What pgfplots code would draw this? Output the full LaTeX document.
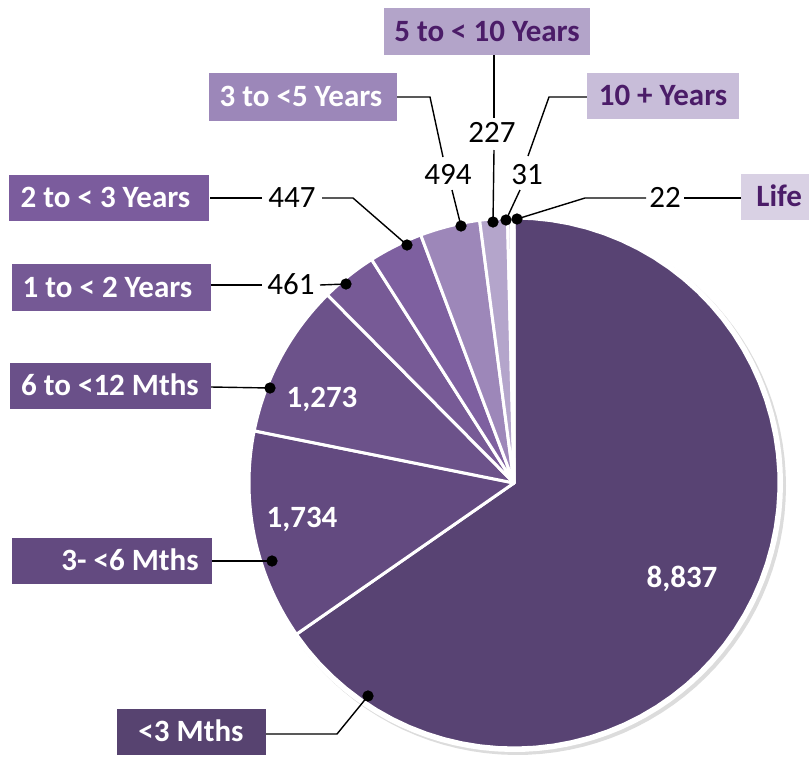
\documentclass[border=0pt]{standalone}
\usepackage{pgfplots}
\usepackage{pgfplotstable}
\pgfplotsset{compat=1.18}
\usepackage{fontspec}
\setmainfont{Carlito}
\newcommand\lf{\fontsize{15.5}{18}\selectfont}

% slices, clockwise from 12 o'clock
\pgfplotstableread{
slice value
0 8837
1 1734
2 1273
3 461
4 447
5 494
6 227
7 31
8 22
}\piedata

\definecolor{slice0}{HTML}{584373}
\definecolor{slice1}{HTML}{634A80}
\definecolor{slice2}{HTML}{6C528A}
\definecolor{slice3}{HTML}{775A96}
\definecolor{slice4}{HTML}{7E60A0}
\definecolor{slice5}{HTML}{9D87B9}
\definecolor{slice6}{HTML}{B4A5CB}
\definecolor{slice7}{HTML}{CEC5DE}
\definecolor{slice8}{HTML}{F0ECF5}
\definecolor{box0}{HTML}{574370}
\definecolor{box1}{HTML}{634A80}
\definecolor{box2}{HTML}{6A5089}
\definecolor{box3}{HTML}{755995}
\definecolor{box4}{HTML}{7B5C9D}
\definecolor{box5}{HTML}{9C87B9}
\definecolor{box6}{HTML}{B3A4C9}
\definecolor{box7}{HTML}{C8BDD9}
\definecolor{box8}{HTML}{D9D1E4}
\definecolor{darktxt}{HTML}{4B1C68}

\gdef\total{0}%
\pgfplotsforeachungrouped \i in {0,...,8}{%
  \pgfplotstablegetelem{\i}{value}\of\piedata
  \pgfmathsetmacro\total{\total+\pgfplotsretval}%
}%
\gdef\cum{0}%
\pgfplotsforeachungrouped \i in {0,...,8}{%
  \pgfplotstablegetelem{\i}{value}\of\piedata
  \pgfmathsetmacro\sA{90-360*(\cum/\total)}%
  \pgfmathsetmacro\cum{\cum+\pgfplotsretval}%
  \pgfmathsetmacro\eA{90-360*(\cum/\total)}%
  \expandafter\xdef\csname sA\i\endcsname{\sA}%
  \expandafter\xdef\csname eA\i\endcsname{\eA}%
}%

\tikzset{lbl/.style={font=\lf, text height=9.8pt, text depth=0pt, inner sep=0pt}}
\newcommand\lbox[5]{%
  \node[fill=#5, minimum width=#3*0.5pt, minimum height=#4*0.5pt, inner sep=0pt, outer sep=0pt] at (axis cs:#1,#2) {};}

\begin{document}
\begin{tikzpicture}
\begin{axis}[
  scale only axis, width=404.5pt, height=378pt,
  xmin=0, xmax=809, ymin=0, ymax=756, y dir=reverse,
  hide axis, clip=false,
]
% shadow and white rim
\addplot[draw=none, fill=black!30, opacity=0.45, domain=0:360, samples=120, variable=\t]
  ({517+269*cos(t)},{486-269*sin(t)}) -- cycle;
\addplot[draw=none, fill=white, domain=0:360, samples=120, variable=\t]
  ({514+269*cos(t)},{483-269*sin(t)}) -- cycle;
% slices
\pgfplotsinvokeforeach{0,...,8}{
  \addplot[draw=white, line width=1.5pt, line join=round, fill=slice#1,
    domain=\csname eA#1\endcsname:\csname sA#1\endcsname, samples=60, variable=\t]
    ({514+265*cos(t)},{483-265*sin(t)}) -- (axis cs:514,483) -- cycle;
}
% leader lines
\addplot[black, line width=0.7pt] coordinates {(494,55) (494,118)};
\addplot[black, line width=0.7pt] coordinates {(494,150) (493,222)};
\addplot[black, line width=0.7pt] coordinates {(397,97) (430,97) (443,157)};
\addplot[black, line width=0.7pt] coordinates {(452,190) (461,226)};
\addplot[black, line width=0.7pt] coordinates {(587,97) (549,97) (528,156)};
\addplot[black, line width=0.7pt] coordinates {(520,190) (506,220)};
\addplot[black, line width=0.7pt] coordinates {(741,198) (684,198)};
\addplot[black, line width=0.7pt] coordinates {(646,198) (585,198) (517,219)};
\addplot[black, line width=0.7pt] coordinates {(210,198) (262,198)};
\addplot[black, line width=0.7pt] coordinates {(322,198) (353,198) (407,245)};
\addplot[black, line width=0.7pt] coordinates {(211,285) (262,285)};
\addplot[black, line width=0.7pt] coordinates {(320,285) (346,284)};
\addplot[black, line width=0.7pt] coordinates {(211,387) (270,388)};
\addplot[black, line width=0.7pt] coordinates {(212,561) (272,561)};
\addplot[black, line width=0.7pt] coordinates {(266,734) (337,734) (368,696)};
% dots
\addplot[only marks, mark=*, mark size=2.6pt, black] coordinates {
  (407,245) (461,226) (493,222) (506,220) (517,219)
  (346,284) (270,388) (272,561) (368,696)};
% label boxes
\lbox{487}{31.5}{206}{47}{box6}
\lbox{303}{97}{188}{48}{box5}
\lbox{663}{96}{152}{46}{box7}
\lbox{775}{197}{68}{46}{box8}
\lbox{109}{198}{200}{46}{box4}
\lbox{111.5}{287.5}{199}{47}{box3}
\lbox{110.5}{386}{201}{46}{box2}
\lbox{112}{561}{200}{46}{box1}
\lbox{191.5}{732}{149}{46}{box0}
% label texts
\node[lbl, text=darktxt, font=\lf\bfseries] at (axis cs:487,31.5) {5 to < 10 Years};
\node[lbl, text=white, font=\lf\bfseries] at (axis cs:301,97) {3 to <5 Years};
\node[lbl, text=darktxt, font=\lf\bfseries] at (axis cs:663,96) {10 + Years};
\node[lbl, text=darktxt, font=\lf\bfseries, anchor=west] at (axis cs:756,197) {Life};
\node[lbl, text=white, font=\lf\bfseries] at (axis cs:105.5,198) {2 to < 3 Years};
\node[lbl, text=white, font=\lf\bfseries] at (axis cs:107.5,287.5) {1 to < 2 Years};
\node[lbl, text=white, font=\lf\bfseries] at (axis cs:110,386) {6 to <12 Mths};
\node[lbl, text=white, font=\lf\bfseries] at (axis cs:130,561) {3- <6 Mths};
\node[lbl, text=white, font=\lf\bfseries] at (axis cs:191,732) {<3 Mths};
% values
\node[lbl, text=black] at (axis cs:492,133) {227};
\node[lbl, text=black] at (axis cs:448,175) {494};
\node[lbl, text=black] at (axis cs:527,175) {31};
\node[lbl, text=black] at (axis cs:665,198) {22};
\node[lbl, text=black] at (axis cs:292,198) {447};
\node[lbl, text=black] at (axis cs:291,285) {461};
\node[lbl, text=white, font=\lf\bfseries] at (axis cs:322,398) {1,273};
\node[lbl, text=white, font=\lf\bfseries] at (axis cs:302,518) {1,734};
\node[lbl, text=white, font=\lf\bfseries] at (axis cs:682,578) {8,837};
\end{axis}
\pgfresetboundingbox
\path (current axis.south west) rectangle (current axis.north east);
\end{tikzpicture}
\end{document}
